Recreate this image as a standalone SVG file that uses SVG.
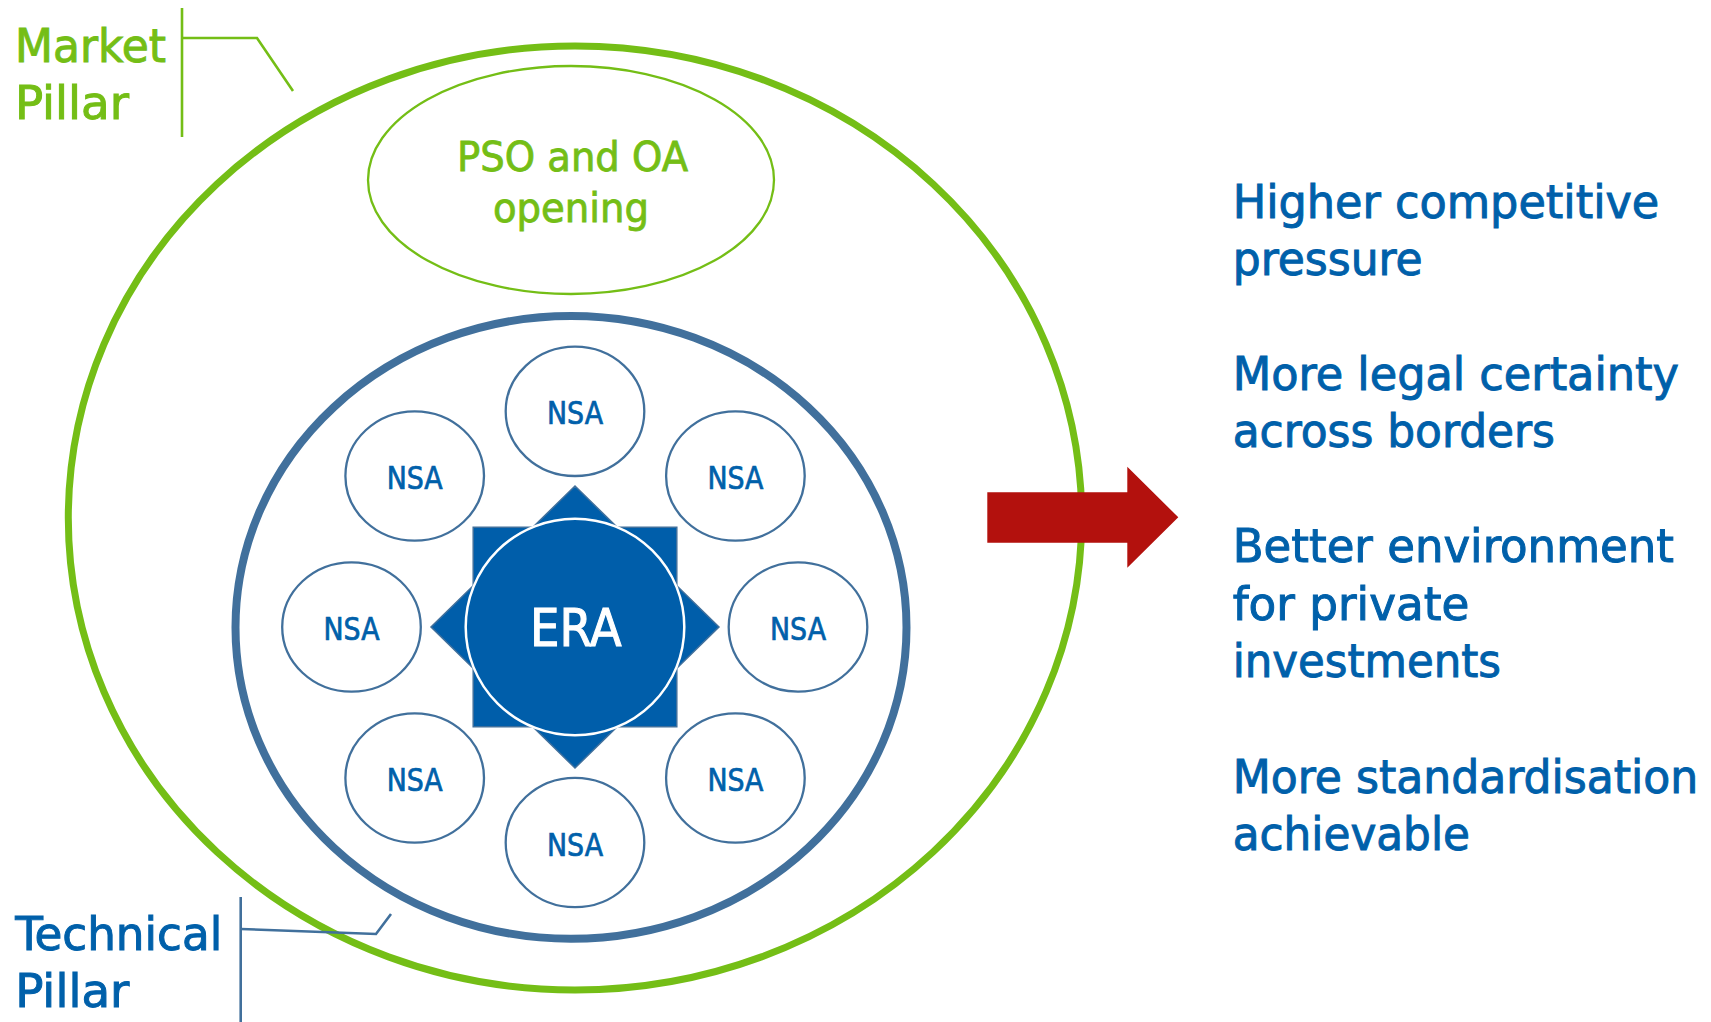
<svg xmlns="http://www.w3.org/2000/svg" width="1711" height="1022" viewBox="0 0 1711 1022">
<style>
  text { font-family: "DejaVu Sans Condensed", "DejaVu Sans", "Liberation Sans", sans-serif; }
  .lbl-g { fill: #74BE16; stroke: #74BE16; stroke-width: 0.9; font-size: 46px; }
  .lbl-b { fill: #0060AA; stroke: #0060AA; stroke-width: 0.9; font-size: 46px; }
  .out { fill: #0060AA; stroke: #0060AA; stroke-width: 0.9; font-size: 46px; }
  .pso { fill: #74BE16; stroke: #74BE16; stroke-width: 0.8; font-size: 41px; text-anchor: middle; }
  .nsa-c { fill: #FFFFFF; stroke: #41709C; stroke-width: 2.3; }
  .nsa-t { fill: #0060AA; stroke: #0060AA; stroke-width: 0.7; font-size: 32px; text-anchor: middle; }
  .lead-g { fill: none; stroke: #74BE16; stroke-width: 2.6; }
  .lead-b { fill: none; stroke: #41709C; stroke-width: 2.6; }
</style>
<rect x="0" y="0" width="1711" height="1022" fill="#FFFFFF"/>

<g id="market-pillar">
  <ellipse cx="575" cy="518" rx="506.7" ry="472" fill="none" stroke="#74BE16" stroke-width="7"/>
</g>

<g id="pso-oa">
  <ellipse cx="571" cy="180" rx="203" ry="114" fill="none" stroke="#74BE16" stroke-width="2.3"/>
  <text class="pso" x="572.5" y="170.7" textLength="231" lengthAdjust="spacingAndGlyphs">PSO and OA</text>
  <text class="pso" x="571" y="221.7" textLength="156" lengthAdjust="spacingAndGlyphs">opening</text>
</g>

<g id="technical-pillar">
  <ellipse cx="571" cy="627.4" rx="335.5" ry="311.4" fill="none" stroke="#41709C" stroke-width="8"/>
</g>

<g id="era">
  <polygon points="719,627 676.8,585.7 676.8,527.3 617.2,527.3 575,486 532.8,527.3 473.2,527.3 473.2,585.7 431,627 473.2,668.3 473.2,726.7 532.8,726.7 575,768 617.2,726.7 676.8,726.7 676.8,668.3" fill="#005EAA" stroke="#41709C" stroke-width="1.5"/>
  <ellipse cx="575" cy="627" rx="109.3" ry="108.3" fill="#005EAA" stroke="#FFFFFF" stroke-width="2.5"/>
  <text x="575.8" y="645.7" fill="#FFFFFF" stroke="#FFFFFF" stroke-width="1" font-size="51" text-anchor="middle" textLength="91.7" lengthAdjust="spacingAndGlyphs">ERA</text>
</g>

<g id="nsa-top">
  <ellipse class="nsa-c" cx="575" cy="411.3" rx="69.3" ry="64.7"/>
  <text class="nsa-t" x="575" y="424.3" textLength="56" lengthAdjust="spacingAndGlyphs">NSA</text>
</g>
<g id="nsa-upper-left">
  <ellipse class="nsa-c" cx="414.7" cy="476" rx="69.3" ry="64.7"/>
  <text class="nsa-t" x="414.7" y="489" textLength="56" lengthAdjust="spacingAndGlyphs">NSA</text>
</g>
<g id="nsa-upper-right">
  <ellipse class="nsa-c" cx="735.4" cy="476" rx="69.3" ry="64.7"/>
  <text class="nsa-t" x="735.4" y="489" textLength="56" lengthAdjust="spacingAndGlyphs">NSA</text>
</g>
<g id="nsa-left">
  <ellipse class="nsa-c" cx="351.5" cy="627" rx="69.3" ry="64.7"/>
  <text class="nsa-t" x="351.5" y="640" textLength="56" lengthAdjust="spacingAndGlyphs">NSA</text>
</g>
<g id="nsa-right">
  <ellipse class="nsa-c" cx="798" cy="627" rx="69.3" ry="64.7"/>
  <text class="nsa-t" x="798" y="640" textLength="56" lengthAdjust="spacingAndGlyphs">NSA</text>
</g>
<g id="nsa-lower-left">
  <ellipse class="nsa-c" cx="414.7" cy="778" rx="69.3" ry="64.7"/>
  <text class="nsa-t" x="414.7" y="791" textLength="56" lengthAdjust="spacingAndGlyphs">NSA</text>
</g>
<g id="nsa-lower-right">
  <ellipse class="nsa-c" cx="735.4" cy="778" rx="69.3" ry="64.7"/>
  <text class="nsa-t" x="735.4" y="791" textLength="56" lengthAdjust="spacingAndGlyphs">NSA</text>
</g>
<g id="nsa-bottom">
  <ellipse class="nsa-c" cx="575" cy="842.5" rx="69.3" ry="64.7"/>
  <text class="nsa-t" x="575" y="855.5" textLength="56" lengthAdjust="spacingAndGlyphs">NSA</text>
</g>

<g id="label-market">
  <text class="lbl-g" x="15" y="62.3" textLength="151" lengthAdjust="spacingAndGlyphs">Market</text>
  <text class="lbl-g" x="15" y="119" textLength="114" lengthAdjust="spacingAndGlyphs">Pillar</text>
</g>
<g id="label-technical">
  <text class="lbl-b" x="15.3" y="950" textLength="207" lengthAdjust="spacingAndGlyphs">Technical</text>
  <text class="lbl-b" x="15.3" y="1007" textLength="114" lengthAdjust="spacingAndGlyphs">Pillar</text>
</g>

<g id="connectors">
  <line class="lead-g" x1="182" y1="8" x2="182" y2="137"/>
  <polyline class="lead-g" points="182,38 257,38 293,91"/>
  <line class="lead-b" x1="240.7" y1="897" x2="240.7" y2="1022"/>
  <polyline class="lead-b" points="240.7,929 376,934 391,914"/>
</g>

<g id="arrow">
  <polygon points="987.3,492.3 1127.3,492.3 1127.3,466.7 1178.3,517.3 1127.3,567.7 1127.3,542.7 987.3,542.7" fill="#B3110D"/>
</g>

<g id="outcomes">
  <text class="out" x="1232.7" y="218.3" textLength="426.6" lengthAdjust="spacingAndGlyphs">Higher competitive</text>
  <text class="out" x="1232.7" y="275" textLength="190" lengthAdjust="spacingAndGlyphs">pressure</text>
  <text class="out" x="1232.7" y="390" textLength="446.3" lengthAdjust="spacingAndGlyphs">More legal certainty</text>
  <text class="out" x="1232.7" y="446.7" textLength="322.3" lengthAdjust="spacingAndGlyphs">across borders</text>
  <text class="out" x="1232.7" y="562.3" textLength="441.3" lengthAdjust="spacingAndGlyphs">Better environment</text>
  <text class="out" x="1232.7" y="620" textLength="236.6" lengthAdjust="spacingAndGlyphs">for private</text>
  <text class="out" x="1232.7" y="677.3" textLength="268.3" lengthAdjust="spacingAndGlyphs">investments</text>
  <text class="out" x="1232.7" y="793.3" textLength="465.6" lengthAdjust="spacingAndGlyphs">More standardisation</text>
  <text class="out" x="1232.7" y="850" textLength="237.3" lengthAdjust="spacingAndGlyphs">achievable</text>
</g>
</svg>
